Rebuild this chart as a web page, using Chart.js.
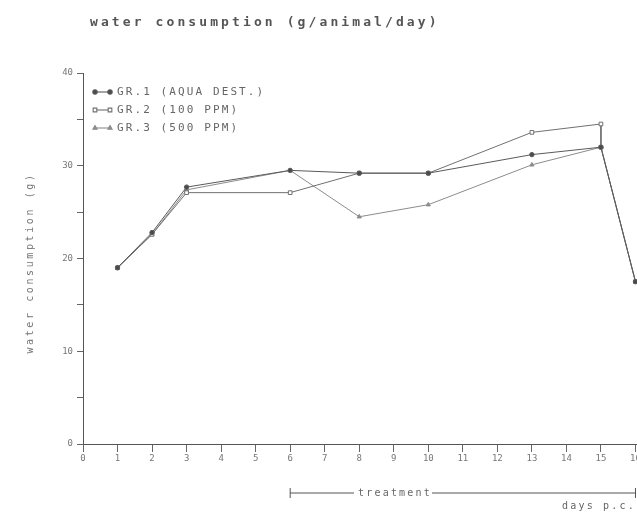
<!DOCTYPE html>
<html>
<head>
<meta charset="utf-8">
<script src="https://cdn.jsdelivr.net/npm/chart.js@4"></script>
<style>
  html, body { margin: 0; padding: 0; background: #fff; width: 637px; height: 513px; overflow: hidden; }
  canvas { display: block; }
</style>
</head>
<body>
<canvas id="chart" width="675" height="513"></canvas>
<script>
// Daily water consumption per group (g/animal/day) by day p.c.
const chartTitle = 'water consumption (g/animal/day)';
const yAxisTitle = 'water consumption (g)';
const groupLabels = ['GR.1 (AQUA DEST.)', 'GR.2 (100 PPM)', 'GR.3 (500 PPM)'];

const daysGr1  = [1, 2, 3, 6, 8, 10, 13, 15, 16];
const waterGr1 = [19.0, 22.8, 27.7, 29.5, 29.2, 29.2, 31.2, 32.0, 17.5];

const daysGr2  = [1, 2, 3, 6, 8, 10, 13, 15, 15, 16];
const waterGr2 = [19.0, 22.6, 27.1, 27.1, 29.2, 29.2, 33.6, 34.5, 32.0, 17.5];

const daysGr3  = [1, 2, 3, 6, 8, 10, 13, 15, 16];
const waterGr3 = [19.0, 22.6, 27.4, 29.5, 24.5, 25.8, 30.1, 32.0, 17.5];

const xTickLabels = ['0','1','2','3','4','5','6','7','8','9','10','11','12','13','14','15','16'];
const yTickLabels = { 0: '0', 10: '10', 20: '20', 30: '30', 40: '40' };

const treatmentLabel = 'treatment';
const treatmentFrom = 6;
const treatmentTo = 16;
const xAxisNote = 'days p.c.';

const toPoints = (xs, ys) => xs.map((x, i) => ({ x: x, y: ys[i] }));

const seriesStyle = [
  { color: '#5a5a5a', point: 'circle',   radius: 2.2, fill: '#4a4a4a' },
  { color: '#707070', point: 'rect',     radius: 2.6, fill: '#ffffff' },
  { color: '#8c8c8c', point: 'triangle', radius: 2.4, fill: '#8c8c8c' }
];

const seriesData = [toPoints(daysGr1, waterGr1), toPoints(daysGr2, waterGr2), toPoints(daysGr3, waterGr3)];

const datasets = seriesData.map((pts, i) => ({
  label: groupLabels[i],
  data: pts,
  borderColor: seriesStyle[i].color,
  borderWidth: 1,
  pointStyle: seriesStyle[i].point,
  pointRadius: seriesStyle[i].radius,
  pointBackgroundColor: seriesStyle[i].fill,
  pointBorderColor: seriesStyle[i].color,
  pointBorderWidth: 1,
  tension: 0,
  fill: false
}));

const MONO = '"DejaVu Sans Mono", "Liberation Mono", monospace';

// Title, axis title, inline legend and treatment bracket
const annotations = {
  id: 'annotations',
  afterDraw(chart) {
    const ctx = chart.ctx;
    const xs = chart.scales.x;
    ctx.save();
    ctx.fillStyle = '#555';
    ctx.textBaseline = 'middle';

    // chart title
    ctx.font = 'bold 13px ' + MONO;
    ctx.letterSpacing = '3.1px';
    ctx.textAlign = 'left';
    ctx.fillText(chartTitle, 90, 23);

    // y-axis title
    ctx.save();
    ctx.fillStyle = '#777';
    ctx.font = '10px ' + MONO;
    ctx.letterSpacing = '2.6px';
    ctx.translate(30, 263);
    ctx.rotate(-Math.PI / 2);
    ctx.textAlign = 'center';
    ctx.fillText(yAxisTitle, 0, 0);
    ctx.restore();

    // legend
    const rows = [92, 110, 128];
    ctx.font = '11px ' + MONO;
    ctx.letterSpacing = '2.1px';
    ctx.textAlign = 'left';
    groupLabels.forEach((label, i) => {
      const y = rows[i];
      const st = seriesStyle[i];
      ctx.strokeStyle = st.color;
      ctx.lineWidth = 1.1;
      ctx.beginPath();
      ctx.moveTo(95, y);
      ctx.lineTo(110, y);
      ctx.stroke();
      ctx.fillStyle = st.fill;
      Chart.helpers.drawPoint(ctx, { pointStyle: st.point, radius: st.radius, borderWidth: 1 }, 95, y);
      Chart.helpers.drawPoint(ctx, { pointStyle: st.point, radius: st.radius, borderWidth: 1 }, 110, y);
      ctx.fillStyle = '#666';
      ctx.fillText(label, 117, y);
    });

    // treatment bracket
    const x0 = xs.getPixelForValue(treatmentFrom);
    const x1 = xs.getPixelForValue(treatmentTo);
    const by = 493;
    ctx.strokeStyle = '#555';
    ctx.lineWidth = 1;
    ctx.beginPath();
    ctx.moveTo(x0, by - 5); ctx.lineTo(x0, by + 5);
    ctx.moveTo(x0, by); ctx.lineTo(354, by);
    ctx.moveTo(432, by); ctx.lineTo(x1, by);
    ctx.moveTo(x1, by - 5); ctx.lineTo(x1, by + 5);
    ctx.stroke();
    ctx.fillStyle = '#666';
    ctx.font = '10px ' + MONO;
    ctx.letterSpacing = '2.2px';
    ctx.fillText(treatmentLabel, 358, by);
    ctx.fillText(xAxisNote, 562, 506);

    ctx.restore();
  }
};

new Chart(document.getElementById('chart'), {
  type: 'line',
  data: { datasets: datasets },
  options: {
    responsive: false,
    animation: false,
    layout: { padding: { top: 73, left: 0, right: 0, bottom: 0 } },
    plugins: { legend: { display: false }, tooltip: { enabled: false }, title: { display: false } },
    scales: {
      x: {
        type: 'linear',
        min: 0,
        max: 17,
        afterFit(axis) { axis.height = 69; },
        ticks: {
          stepSize: 1,
          autoSkip: false,
          maxRotation: 0,
          padding: 1,
          color: '#777',
          font: { family: MONO, size: 9 },
          callback: (v) => (xTickLabels[v] !== undefined ? xTickLabels[v] : '')
        },
        grid: { drawOnChartArea: false, drawTicks: true, tickLength: 8, color: '#666' },
        border: { display: true, color: '#555', width: 1 }
      },
      y: {
        type: 'linear',
        min: 0,
        max: 40,
        afterFit(axis) { axis.width = 83; },
        ticks: {
          stepSize: 5,
          padding: 4,
          color: '#777',
          font: { family: MONO, size: 9 },
          callback: (v) => (yTickLabels[v] !== undefined ? yTickLabels[v] : '')
        },
        grid: { drawOnChartArea: false, drawTicks: true, tickLength: 6, color: '#666' },
        border: { display: true, color: '#555', width: 1 }
      }
    }
  },
  plugins: [annotations]
});
</script>
</body>
</html>
